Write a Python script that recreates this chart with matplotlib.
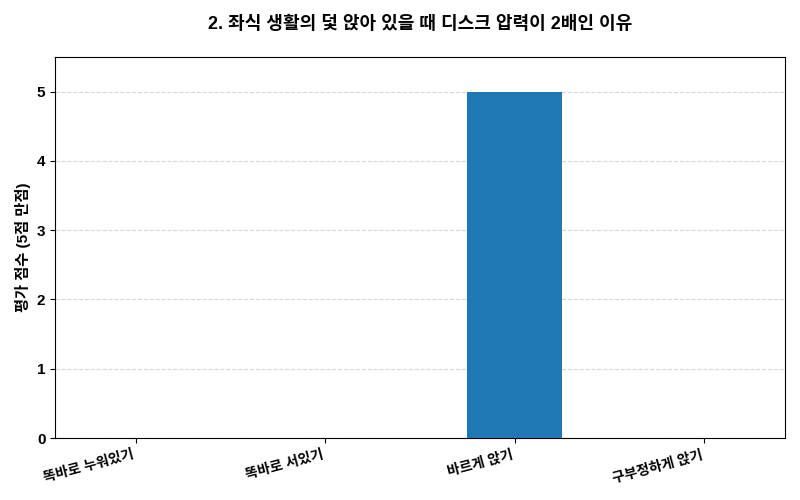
import matplotlib
matplotlib.use("Agg")
import matplotlib.pyplot as plt

plt.rcParams['font.family'] = ['Liberation Sans', 'Noto Sans CJK KR', 'DejaVu Sans']
plt.rcParams['font.weight'] = 'bold'

categories = ["똑바로 누워있기", "똑바로 서있기", "바르게 앉기", "구부정하게 앉기"]
values = [0, 0, 5, 0]
title = "2. 좌식 생활의 덫 앉아 있을 때 디스크 압력이 2배인 이유"
ylabel = "평가 점수 (5점 만점)"

fig, ax = plt.subplots(figsize=(8, 5), dpi=100)
x = list(range(len(categories)))
ax.bar(x, values, width=0.5, color="#1f77b4", zorder=3)
ax.set_xticks(x)
ax.set_xticklabels(categories, rotation=15, ha='right', fontsize=10, fontweight='bold')
ax.set_ylim(0, 5.5)
ax.set_yticks([0, 1, 2, 3, 4, 5])
ax.tick_params(axis='y', labelsize=11)
ax.set_ylabel(ylabel, fontsize=11, fontweight='bold')
ax.set_title(title, fontsize=13, fontweight='bold', pad=20)
ax.yaxis.grid(True, linestyle='--', color='#cccccc', alpha=0.8, zorder=0)
ax.set_axisbelow(True)
for lab in ax.get_yticklabels():
    lab.set_fontweight('bold')

fig.subplots_adjust(left=0.069, right=0.981, top=0.886, bottom=0.124)
fig.savefig("out.png", dpi=100)
